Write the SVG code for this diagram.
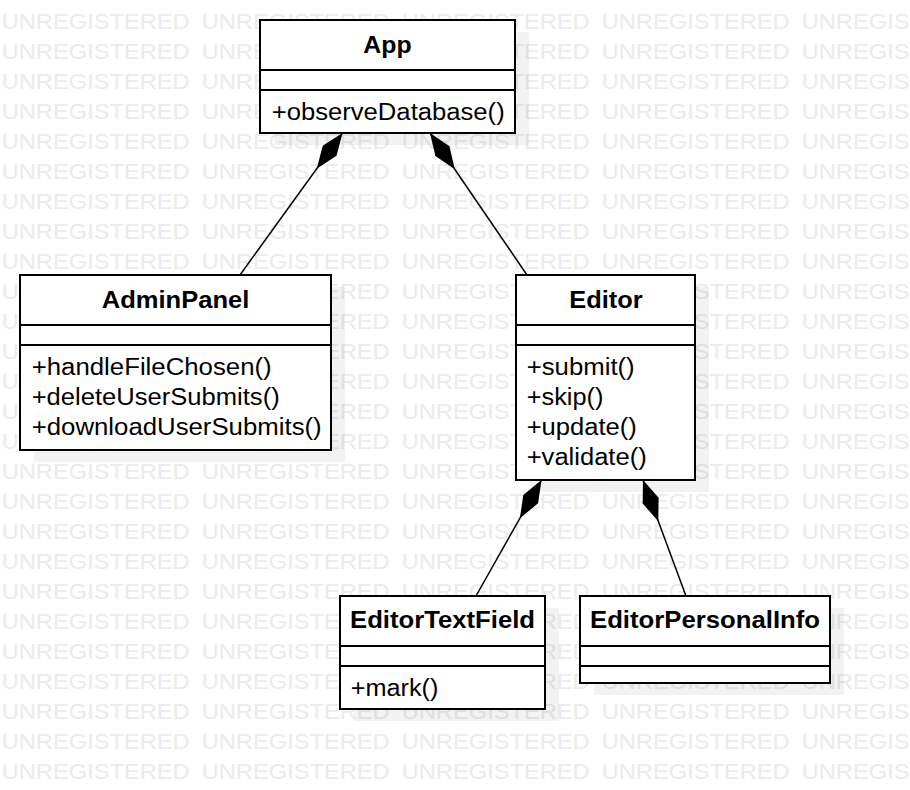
<svg xmlns="http://www.w3.org/2000/svg" xmlns:xlink="http://www.w3.org/1999/xlink" width="910" height="790" viewBox="0 0 910 790">
<style>
.wm{font-family:"Liberation Sans",Arial,sans-serif;font-size:22px;fill:#ebebeb}
.box{fill:#ffffff;stroke:#000;stroke-width:2}
.shadow{fill:#000;fill-opacity:0.05}
.div{stroke:#000;stroke-width:2}
.title{font-family:"Liberation Sans",Arial,sans-serif;font-size:24px;font-weight:bold;fill:#000}
.op{font-family:"Liberation Sans",Arial,sans-serif;font-size:23px;fill:#000}
.conn{fill:none;stroke:#000;stroke-width:1.5;marker-start:url(#diamond)}
</style>
<defs>
<marker id="diamond" markerUnits="userSpaceOnUse" viewBox="0 -10 46 20" markerWidth="46" markerHeight="20" refX="0" refY="0" orient="auto" overflow="visible">
<path d="M0,0 L22,-8.5 L44,0 L22,8.5 Z" fill="#000"/>
</marker>
<g id="wmrow">
<text class="wm" x="1.7" y="29.3" textLength="188" lengthAdjust="spacingAndGlyphs">UNREGISTERED</text>
<text class="wm" x="201.7" y="29.3" textLength="188" lengthAdjust="spacingAndGlyphs">UNREGISTERED</text>
<text class="wm" x="401.7" y="29.3" textLength="188" lengthAdjust="spacingAndGlyphs">UNREGISTERED</text>
<text class="wm" x="601.7" y="29.3" textLength="188" lengthAdjust="spacingAndGlyphs">UNREGISTERED</text>
<text class="wm" x="801.7" y="29.3" textLength="188" lengthAdjust="spacingAndGlyphs">UNREGISTERED</text>
</g>
</defs>
<rect x="0" y="0" width="910" height="790" fill="#ffffff"/>
<g id="watermark">
<use xlink:href="#wmrow" href="#wmrow" y="0"/>
<use xlink:href="#wmrow" href="#wmrow" y="30"/>
<use xlink:href="#wmrow" href="#wmrow" y="60"/>
<use xlink:href="#wmrow" href="#wmrow" y="90"/>
<use xlink:href="#wmrow" href="#wmrow" y="120"/>
<use xlink:href="#wmrow" href="#wmrow" y="150"/>
<use xlink:href="#wmrow" href="#wmrow" y="180"/>
<use xlink:href="#wmrow" href="#wmrow" y="210"/>
<use xlink:href="#wmrow" href="#wmrow" y="240"/>
<use xlink:href="#wmrow" href="#wmrow" y="270"/>
<use xlink:href="#wmrow" href="#wmrow" y="300"/>
<use xlink:href="#wmrow" href="#wmrow" y="330"/>
<use xlink:href="#wmrow" href="#wmrow" y="360"/>
<use xlink:href="#wmrow" href="#wmrow" y="390"/>
<use xlink:href="#wmrow" href="#wmrow" y="420"/>
<use xlink:href="#wmrow" href="#wmrow" y="450"/>
<use xlink:href="#wmrow" href="#wmrow" y="480"/>
<use xlink:href="#wmrow" href="#wmrow" y="510"/>
<use xlink:href="#wmrow" href="#wmrow" y="540"/>
<use xlink:href="#wmrow" href="#wmrow" y="570"/>
<use xlink:href="#wmrow" href="#wmrow" y="600"/>
<use xlink:href="#wmrow" href="#wmrow" y="630"/>
<use xlink:href="#wmrow" href="#wmrow" y="660"/>
<use xlink:href="#wmrow" href="#wmrow" y="690"/>
<use xlink:href="#wmrow" href="#wmrow" y="720"/>
<use xlink:href="#wmrow" href="#wmrow" y="750"/>
</g>
<g id="shadows">
<rect class="shadow" x="274" y="32" width="255" height="113"/>
<rect class="shadow" x="34" y="287" width="311" height="175"/>
<rect class="shadow" x="530" y="287" width="179" height="205"/>
<rect class="shadow" x="354" y="608" width="205" height="113"/>
<rect class="shadow" x="594" y="608" width="250" height="87"/>
</g>
<g id="connectors">
<path class="conn" d="M342.5,133 L240,275"/>
<path class="conn" d="M430,133 L527,275"/>
<path class="conn" d="M541.5,480 L476,596"/>
<path class="conn" d="M643,480 L686,596"/>
</g>
<g id="App">
<rect class="box" x="260" y="20" width="255" height="113"/>
<line class="div" x1="260" y1="70" x2="515" y2="70"/>
<line class="div" x1="260" y1="90" x2="515" y2="90"/>
<text class="title" x="363.3" y="53" textLength="48.3" lengthAdjust="spacingAndGlyphs">App</text>
<text class="op" x="271.7" y="119.5" textLength="233" lengthAdjust="spacingAndGlyphs">+observeDatabase()</text>
</g>
<g id="AdminPanel">
<rect class="box" x="20" y="275" width="311" height="175"/>
<line class="div" x1="20" y1="325" x2="331" y2="325"/>
<line class="div" x1="20" y1="345" x2="331" y2="345"/>
<text class="title" x="101.7" y="308" textLength="147.7" lengthAdjust="spacingAndGlyphs">AdminPanel</text>
<text class="op" x="31.7" y="374.5" textLength="240" lengthAdjust="spacingAndGlyphs">+handleFileChosen()</text>
<text class="op" x="31.7" y="404.5" textLength="248" lengthAdjust="spacingAndGlyphs">+deleteUserSubmits()</text>
<text class="op" x="31.7" y="434.5" textLength="290" lengthAdjust="spacingAndGlyphs">+downloadUserSubmits()</text>
</g>
<g id="Editor">
<rect class="box" x="516" y="275" width="179" height="205"/>
<line class="div" x1="516" y1="325" x2="695" y2="325"/>
<line class="div" x1="516" y1="345" x2="695" y2="345"/>
<text class="title" x="569.3" y="308" textLength="73.3" lengthAdjust="spacingAndGlyphs">Editor</text>
<text class="op" x="526.7" y="374.5" textLength="108" lengthAdjust="spacingAndGlyphs">+submit()</text>
<text class="op" x="526.7" y="404.5" textLength="76.7" lengthAdjust="spacingAndGlyphs">+skip()</text>
<text class="op" x="526.7" y="434.5" textLength="110" lengthAdjust="spacingAndGlyphs">+update()</text>
<text class="op" x="526.7" y="464.5" textLength="120" lengthAdjust="spacingAndGlyphs">+validate()</text>
</g>
<g id="EditorTextField">
<rect class="box" x="340" y="596" width="205" height="113"/>
<line class="div" x1="340" y1="646" x2="545" y2="646"/>
<line class="div" x1="340" y1="666" x2="545" y2="666"/>
<text class="title" x="350" y="628" textLength="185" lengthAdjust="spacingAndGlyphs">EditorTextField</text>
<text class="op" x="350.7" y="695.5" textLength="87.7" lengthAdjust="spacingAndGlyphs">+mark()</text>
</g>
<g id="EditorPersonalInfo">
<rect class="box" x="580" y="596" width="250" height="87"/>
<line class="div" x1="580" y1="646" x2="830" y2="646"/>
<line class="div" x1="580" y1="666" x2="830" y2="666"/>
<text class="title" x="590" y="628" textLength="230" lengthAdjust="spacingAndGlyphs">EditorPersonalInfo</text>
</g>
</svg>
